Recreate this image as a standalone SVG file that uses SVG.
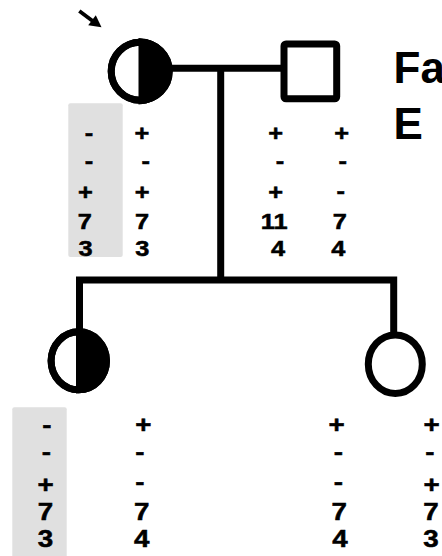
<svg xmlns="http://www.w3.org/2000/svg" width="442" height="556" viewBox="0 0 442 556">
  <style>
    .line { fill: none; stroke: #000; stroke-width: 7; }
    .sym { fill: #fff; stroke: #000; stroke-width: 7; }
    .half { fill: #000; }
    .shade { fill: #e0e0e0; }
    .g { font-family: "Liberation Sans", Arial, sans-serif; font-weight: bold; fill: #000; stroke: #000; stroke-width: 0.5; text-anchor: middle; }
    .g1 { font-size: 21.5px; }
    .g2 { font-size: 23.5px; }
    .title { font-family: "Liberation Sans", Arial, sans-serif; font-weight: bold; font-size: 44px; fill: #000; }
  </style>

  <!-- shaded haplotype columns -->
  <rect class="shade" x="68.3" y="103.3" width="54.4" height="153.7" rx="2"/>
  <rect class="shade" x="12.3" y="407.3" width="54.4" height="152" rx="2"/>

  <!-- connectors: mating line, descent line, sibship line -->
  <g id="connectors">
    <line class="line" x1="170" y1="68.3" x2="283" y2="68.3" stroke-width="6.7"/>
    <line class="line" x1="220.7" y1="68.3" x2="220.7" y2="280" stroke-width="6.7"/>
    <path class="line" d="M79.5 331 V280 H393.7 V332" stroke-width="6.5"/>
  </g>

  <!-- proband arrow -->
  <g id="proband-arrow">
    <line x1="79.3" y1="11" x2="93" y2="21.2" stroke="#000" stroke-width="3.8"/>
    <polygon points="101.5,27.3 88.2,25.3 95.8,15.3" fill="#000"/>
  </g>

  <!-- I-1: affected mother (half shaded) -->
  <g id="I-1">
    <circle class="sym" cx="140.2" cy="71.2" r="29"/>
    <path class="half" d="M138.5 38 A32.6 32.6 0 0 1 138.5 104.4 Z"/>
    <circle cx="140.2" cy="71.2" r="29" fill="none" stroke="#000" stroke-width="7"/>
    <g class="g g1" transform="scale(1.18 1)">
      <text x="75.4" y="140.5">-</text>
      <text x="75.3" y="168.5">-</text>
      <text x="72.3" y="200">+</text>
      <text x="71.9" y="229.5">7</text>
      <text x="72.6" y="256.5">3</text>
      <text x="120.3" y="141">+</text>
      <text x="123.5" y="168.5">-</text>
      <text x="120.5" y="200">+</text>
      <text x="120.3" y="229.5">7</text>
      <text x="120.5" y="256.5">3</text>
    </g>
  </g>

  <!-- I-2: unaffected father -->
  <g id="I-2">
    <rect class="sym" x="284" y="44" width="52.7" height="54.8" rx="2" stroke-width="6.7"/>
    <g class="g g1" transform="scale(1.18 1)">
      <text x="233.7" y="141">+</text>
      <text x="237.3" y="168.5">-</text>
      <text x="233.7" y="200">+</text>
      <text x="232.4" y="229.5">11</text>
      <text x="235.6" y="256.5">4</text>
      <text x="289.6" y="141">+</text>
      <text x="290.4" y="168.5">-</text>
      <text x="288.7" y="198.5">-</text>
      <text x="287.9" y="229.5">7</text>
      <text x="286.7" y="256.5">4</text>
    </g>
  </g>

  <!-- II-1: affected daughter (half shaded) -->
  <g id="II-1">
    <ellipse class="sym" cx="78.8" cy="360.8" rx="27.7" ry="29"/>
    <path class="half" d="M76 328 A31.2 32.6 0 0 1 76 393.6 Z"/>
    <ellipse cx="78.8" cy="360.8" rx="27.7" ry="29" fill="none" stroke="#000" stroke-width="7"/>
    <g class="g g2" transform="scale(1.18 1)">
      <text x="39.8" y="433">-</text>
      <text x="39.4" y="460">-</text>
      <text x="38.6" y="492.6">+</text>
      <text x="38.6" y="519.6">7</text>
      <text x="38.6" y="547.5">3</text>
      <text x="121.4" y="433">+</text>
      <text x="118.6" y="460">-</text>
      <text x="118.6" y="490.5">-</text>
      <text x="120.1" y="519.6">7</text>
      <text x="120.1" y="547.5">4</text>
    </g>
  </g>

  <!-- II-2: unaffected daughter -->
  <g id="II-2">
    <ellipse class="sym" cx="395.3" cy="364.2" rx="27" ry="29.3" stroke-width="6.7"/>
    <g class="g g2" transform="scale(1.18 1)">
      <text x="285.3" y="433">+</text>
      <text x="286.7" y="460">-</text>
      <text x="286.7" y="490.5">-</text>
      <text x="287.5" y="519.6">7</text>
      <text x="288.1" y="547.5">4</text>
      <text x="365.8" y="433">+</text>
      <text x="364.4" y="460">-</text>
      <text x="365.8" y="492.6">+</text>
      <text x="365.3" y="519.6">7</text>
      <text x="365.3" y="547.5">3</text>
    </g>
  </g>

  <!-- family heading -->
  <g id="heading">
    <text class="title" x="393.5" y="82.7">Fa</text>
    <text class="title" x="393.5" y="139.3">E</text>
  </g>
</svg>
